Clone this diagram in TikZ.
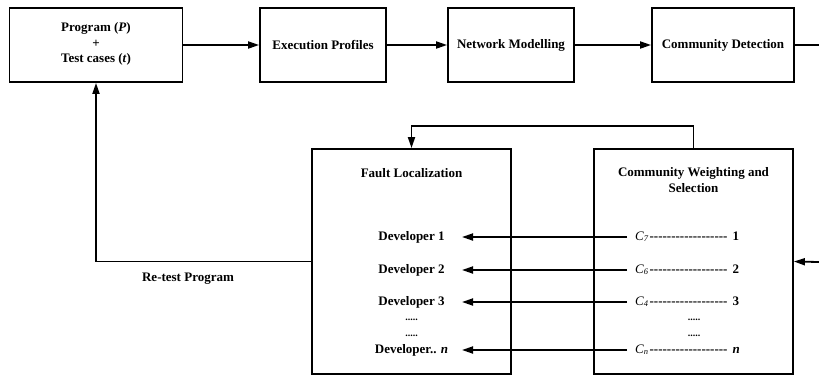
\documentclass[tikz,border=0pt]{standalone}
\usepackage{fontspec}
\setmainfont{Liberation Serif}
\usetikzlibrary{arrows.meta}
\newcommand\dashrow{-{}-{}-{}-{}-{}-{}-{}-{}-{}-{}-{}-{}-{}-{}-{}-{}-{}-{}}
\newcommand\crow[2]{{\mdseries\itshape C\raisebox{-1.2pt}{\fontsize{8.5}{8.5}\selectfont #1}}\hspace{1.5pt}\dashrow\hspace{5pt}#2}
\begin{document}
\begin{tikzpicture}[x=1pt,y=-1pt,
  box/.style={draw, line width=1.8pt, inner sep=0pt},
  lbl/.style={font=\fontsize{13}{15.5}\selectfont\bfseries, inner sep=1pt, align=center},
  crowst/.style={font=\fontsize{13}{15.5}\selectfont\bfseries, inner ysep=1pt, inner xsep=8pt, anchor=west},
  dots/.style={font=\fontsize{10}{10}\selectfont\bfseries, inner sep=0pt},
  arr/.style={line width=1.8pt, -{Triangle[length=11pt,width=7pt]}},
  ln/.style={line width=1.8pt}]
\useasboundingbox (0,0) rectangle (819,376);
% top row
\node[box, minimum width=173pt, minimum height=74pt] (prog) at (96,45) {};
\node[lbl] (progt) at (96,44) {Program (\textit{P})\\+\\Test cases (\textit{t})};
\node[box, lbl, minimum width=126pt, minimum height=74pt] (exec) at (323,45) {Execution Profiles};
\node[box, lbl, minimum width=126pt, minimum height=74pt] (net) at (511,45) {Network Modelling};
\node[box, lbl, minimum width=142pt, minimum height=74pt] (cd) at (723,45) {Community Detection};
\coordinate (rout) at (819,45);
\coordinate (rin) at (819,262);
\draw[arr] (prog) -- (exec);
\draw[arr] (exec) -- (net);
\draw[arr] (net) -- (cd);
\draw[ln] (cd.east) -- (rout);
% bottom boxes
\node[box, minimum width=199pt, minimum height=225pt] (fl) at (411.5,261.5) {};
\node[box, minimum width=199pt, minimum height=225pt] (cw) at (693.5,261.5) {};
\node[lbl] (flt) at (411.5,173) {Fault Localization};
\node[lbl] (cwt) at (693.5,180) {Community Weighting and\\Selection};
\draw[arr] (rin) -- (cw.east);
\draw[arr] (cw.north) -- ++(0,-22) -| (fl.north);
\draw[arr] (fl.west) -| (prog.south);
\node[lbl] (retest) at (188,279) {Re-test Program};
% developers
\node[lbl] (d1) at (411.5,237) {Developer 1};
\node[lbl] (d2) at (411.5,270) {Developer 2};
\node[lbl] (d3) at (411.5,302) {Developer 3};
\node[dots] (dd1) at (411.5,320) {.....};
\node[dots] (dd2) at (411.5,336) {.....};
\node[lbl] (dn) at (411.5,350) {Developer.. \textit{n}};
\coordinate (t1) at (462,237);
\coordinate (t2) at (462,270);
\coordinate (t3) at (462,302);
\coordinate (tn) at (462,350);
% communities
\node[crowst] (c1) at (627,237) {\crow{7}{1}};
\node[crowst] (c2) at (627,270) {\crow{6}{2}};
\node[crowst] (c3) at (627,302) {\crow{4}{3}};
\node[dots] (cd1) at (694,320) {.....};
\node[dots] (cd2) at (694,336) {.....};
\node[crowst] (cn) at (627,350) {\crow{n}{\textit{n}}};
\draw[arr] (c1.west) -- (t1);
\draw[arr] (c2.west) -- (t2);
\draw[arr] (c3.west) -- (t3);
\draw[arr] (cn.west) -- (tn);
\end{tikzpicture}
\end{document}
